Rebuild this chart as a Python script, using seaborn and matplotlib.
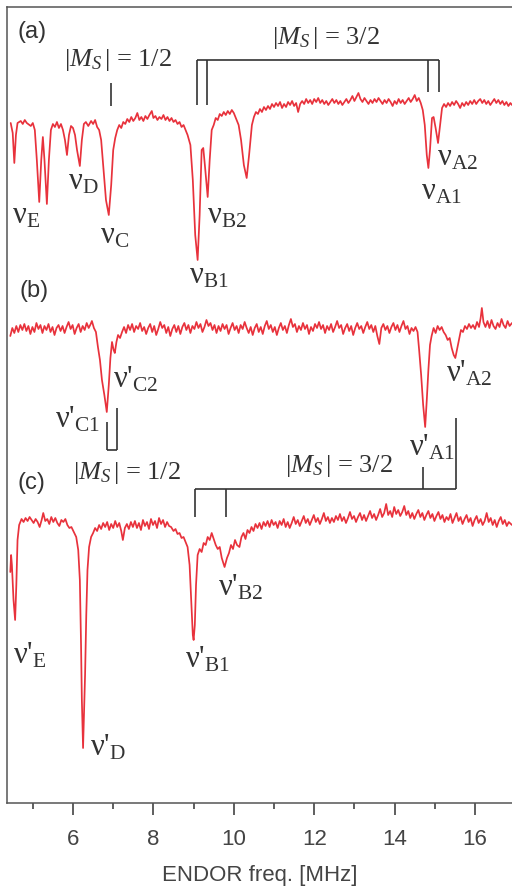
import numpy as np
import pandas as pd
import matplotlib
matplotlib.use("Agg")
import matplotlib.pyplot as plt
import seaborn as sns
from matplotlib.ticker import MultipleLocator

# ------------------------------------------------------------------
# Spectrum data (freq in MHz, signal in arb. units,
# dips = negative ENDOR response)
# ------------------------------------------------------------------
freq_a = [4.45, 4.50, 4.54, 4.58, 4.62, 4.70, 4.75, 4.80, 4.85, 4.95, 5.00, 5.05, 5.10, 5.16, 5.21,
          5.25, 5.29, 5.35, 5.40, 5.45, 5.50, 5.55, 5.60, 5.65, 5.70, 5.75, 5.80, 5.85, 5.90, 5.95,
          6.00, 6.05, 6.10, 6.17, 6.22, 6.27, 6.32, 6.38, 6.45, 6.50, 6.55, 6.60, 6.65, 6.70, 6.75,
          6.82, 6.89, 6.95, 7.00, 7.05, 7.10, 7.15, 7.20, 7.25, 7.30, 7.35, 7.40, 7.45, 7.50, 7.55,
          7.60, 7.65, 7.70, 7.75, 7.80, 7.85, 7.90, 7.96, 8.00, 8.05, 8.10, 8.15, 8.20, 8.25, 8.30,
          8.35, 8.40, 8.45, 8.50, 8.55, 8.60, 8.65, 8.70, 8.75, 8.80, 8.85, 8.92, 8.98, 9.04, 9.10,
          9.15, 9.20, 9.24, 9.28, 9.35, 9.40, 9.45, 9.50, 9.55, 9.60, 9.65, 9.70, 9.75, 9.80, 9.85,
          9.90, 9.95, 10.00, 10.05, 10.12, 10.18, 10.25, 10.32, 10.38, 10.45, 10.50, 10.55, 10.60,
          10.65, 10.70, 10.75, 10.80, 10.85, 10.90, 10.95, 11.00, 11.05, 11.10, 11.15, 11.20, 11.25,
          11.30, 11.35, 11.40, 11.45, 11.50, 11.55, 11.60, 11.65, 11.70, 11.75, 11.80, 11.85, 11.90,
          11.95, 12.00, 12.05, 12.10, 12.15, 12.20, 12.25, 12.30, 12.35, 12.40, 12.45, 12.50, 12.55,
          12.60, 12.65, 12.70, 12.75, 12.80, 12.85, 12.90, 12.95, 13.00, 13.05, 13.10, 13.15, 13.20,
          13.25, 13.30, 13.35, 13.40, 13.45, 13.50, 13.55, 13.60, 13.65, 13.70, 13.75, 13.80, 13.85,
          13.90, 13.95, 14.00, 14.05, 14.10, 14.15, 14.20, 14.25, 14.30, 14.35, 14.40, 14.45, 14.50,
          14.55, 14.60, 14.65, 14.70, 14.75, 14.80, 14.84, 14.88, 14.93, 14.97, 15.02, 15.08, 15.13,
          15.18, 15.23, 15.28, 15.33, 15.38, 15.43, 15.48, 15.53, 15.58, 15.63, 15.68, 15.73, 15.78,
          15.83, 15.88, 15.93, 15.98, 16.03, 16.08, 16.13, 16.18, 16.23, 16.28, 16.33, 16.38, 16.43,
          16.48, 16.53, 16.58, 16.63, 16.68, 16.73, 16.78, 16.83, 16.88, 16.92]
sig_a = [-3, -13, -43, -15, -3, -1, -4, 0, -3, -6, -3, -10, -40, -82, -40,
         -17, -40, -84, -40, -10, -4, -7, -2, -8, -4, -10, -20, -35, -15, -6,
         -8, -15, -30, -46, -20, -4, -2, -6, -1, -4, 0, -7, -10, -20, -45,
         -80, -95, -65, -30, -18, -10, -5, -8, -2, -4, 1, -2, 3, -1, 2,
         7, 0, 3, -1, 4, 1, 5, 9, 2, 4, 0, 3, 1, 5, 0,
         3, -1, 2, -2, 0, -4, -2, -7, -5, -10, -15, -25, -60, -115, -140,
         -95, -30, -28, -45, -77, -40, -10, -5, 2, 0, 6, 4, 8, 5, 9,
         6, 10, 7, 2, -5, -20, -45, -58, -35, -5, 3, 8, 6,
         11, 8, 13, 10, 14, 11, 16, 13, 17, 14, 18, 12, 16,
         13, 18, 15, 19, 14, 17, 8, 16, 19, 16, 21, 17, 20,
         16, 21, 18, 22, 17, 20, 16, 19, 15, 18, 21, 17, 20,
         16, 19, 15, 18, 21, 17, 20, 24, 19, 23, 27, 21, 18,
         22, 19, 16, 20, 17, 21, 18, 22, 19, 16, 20, 17, 21,
         18, 14, 19, 16, 21, 17, 20, 16, 19, 22, 18, 21, 25,
         19, 22, 17, 10, -5, -35, -48, -30, 2, 3, -8, -23, -5,
         12, 16, 13, 17, 14, 18, 15, 19, 16, 12, 17, 14, 18,
         15, 19, 16, 20, 16, 19, 21, 17, 20, 16, 19, 15, 18,
         21, 17, 20, 16, 19, 15, 18, 14, 17, 15]

freq_b = [4.44, 4.49, 4.54, 4.59, 4.64, 4.69, 4.74, 4.79, 4.84, 4.89, 4.94, 4.99, 5.04, 5.09, 5.14,
          5.19, 5.24, 5.29, 5.34, 5.39, 5.44, 5.49, 5.54, 5.59, 5.64, 5.69, 5.74, 5.79, 5.84, 5.89,
          5.94, 5.99, 6.04, 6.09, 6.14, 6.19, 6.24, 6.29, 6.34, 6.39, 6.44, 6.47, 6.52, 6.57, 6.62,
          6.67, 6.72, 6.78, 6.84, 6.89, 6.93, 6.97, 7.01, 7.04, 7.08, 7.12, 7.17, 7.22, 7.27, 7.32,
          7.37, 7.42, 7.47, 7.52, 7.57, 7.62, 7.67, 7.72, 7.77, 7.82, 7.87, 7.92, 7.97, 8.02, 8.07,
          8.12, 8.17, 8.22, 8.27, 8.32, 8.37, 8.42, 8.47, 8.52, 8.57, 8.62, 8.67, 8.72, 8.77, 8.82,
          8.87, 8.92, 8.97, 9.02, 9.07, 9.12, 9.17, 9.22, 9.27, 9.32, 9.37, 9.42, 9.47, 9.52, 9.57,
          9.62, 9.67, 9.72, 9.77, 9.82, 9.87, 9.92, 9.97, 10.02, 10.07, 10.12, 10.17, 10.22, 10.27,
          10.32, 10.37, 10.42, 10.47, 10.52, 10.57, 10.62, 10.67, 10.72, 10.77, 10.82, 10.87, 10.92,
          10.97, 11.02, 11.07, 11.12, 11.17, 11.22, 11.27, 11.32, 11.37, 11.42, 11.47, 11.52, 11.57,
          11.62, 11.67, 11.72, 11.77, 11.82, 11.87, 11.92, 11.97, 12.02, 12.07, 12.12, 12.17, 12.22,
          12.27, 12.32, 12.37, 12.42, 12.47, 12.52, 12.57, 12.62, 12.67, 12.72, 12.77, 12.82, 12.87,
          12.92, 12.97, 13.02, 13.07, 13.12, 13.17, 13.22, 13.27, 13.32, 13.37, 13.42, 13.47, 13.52,
          13.57, 13.62, 13.67, 13.72, 13.77, 13.82, 13.87, 13.92, 13.97, 14.02, 14.07, 14.12, 14.17,
          14.22, 14.27, 14.32, 14.37, 14.42, 14.47, 14.52, 14.57, 14.61, 14.66, 14.71, 14.76, 14.80,
          14.84, 14.88, 14.92, 14.97, 15.02, 15.07, 15.12, 15.17, 15.22, 15.27, 15.32, 15.37, 15.42,
          15.47, 15.51, 15.55, 15.60, 15.65, 15.70, 15.75, 15.80, 15.85, 15.90, 15.95, 16.00, 16.05,
          16.10, 16.14, 16.17, 16.21, 16.26, 16.31, 16.36, 16.41, 16.46, 16.51, 16.56, 16.61, 16.66,
          16.71, 16.76, 16.81, 16.86, 16.92]
sig_b = [-6, 2, -3, 4, -2, 5, 0, 6, -1, 4, -4, 3, -2, 7, 1,
         5, -3, 4, 0, 6, -2, 3, -5, 2, 5, -1, 4, -3, 3, 8,
         1, 5, -4, 2, 6, -2, 4, 0, 7, 2, 6, 9, 2, -2, -17,
         -30, -50, -65, -82, -55, -28, -12, -20, -23, -12, -5, -8, -2, 3, -3,
         5, 0, 6, -2, 4, 1, 7, -1, 3, -4, 2, 6, -2, 4, -5,
         1, 8, 2, 5, -3, 3, -6, 1, 5, -2, 4, -4, 3, 7, 0,
         5, -3, 4, 1, 8, 2, 6, -2, 3, 10, 4, 7, 0, 5, -3,
         4, -1, 6, 1, 5, -4, 2, 7, 0, 4, -3, 5, 1, 8,
         2, -3, 3, -5, 2, 6, -2, 3, -4, 4, 9, 1, 5,
         -2, 3, -5, 2, 7, 0, 4, -3, 5, 11, 3, 6, -2,
         4, 0, 7, 1, 5, -4, 3, -1, 6, 2, 8, 1, 5,
         -3, 4, 0, 6, -2, 3, 9, 2, 5, -4, 2, 6, -1,
         4, -5, 2, 7, 1, 4, -3, 3, 8, 1, 5, -2, 4,
         -6, -14, 2, 6, 0, 4, -3, 3, 7, 0, 5, -2, 4,
         9, 1, 4, -4, 2, -1, 3, -2, -20, -45, -75, -97, -70,
         -40, -15, -6, 2, -3, 4, 0, 3, -2, -5, -10, -8, -18,
         -25, -28, -20, -10, 0, -2, 4, 1, 6, 2, 5, 1, 8,
         3, 12, 22, 8, 3, 9, 2, 10, 4, 1, 7, 3, 11,
         5, 2, 9, 4, 7]

freq_c = [4.44, 4.46, 4.48, 4.52, 4.56, 4.59, 4.62, 4.66, 4.72, 4.77, 4.82, 4.87, 4.92, 4.97, 5.02,
          5.07, 5.12, 5.17, 5.22, 5.26, 5.31, 5.36, 5.41, 5.46, 5.51, 5.56, 5.61, 5.66, 5.71, 5.76,
          5.81, 5.86, 5.91, 5.96, 6.02, 6.08, 6.13, 6.17, 6.20, 6.22, 6.25, 6.28, 6.30, 6.33, 6.36,
          6.40, 6.45, 6.50, 6.55, 6.60, 6.65, 6.70, 6.75, 6.80, 6.85, 6.90, 6.95, 7.00, 7.05, 7.10,
          7.15, 7.20, 7.24, 7.29, 7.34, 7.39, 7.44, 7.49, 7.54, 7.59, 7.64, 7.69, 7.74, 7.79, 7.84,
          7.89, 7.94, 7.99, 8.04, 8.09, 8.14, 8.19, 8.24, 8.29, 8.34, 8.39, 8.44, 8.50, 8.55, 8.60,
          8.65, 8.70, 8.75, 8.80, 8.85, 8.90, 8.94, 8.98, 9.00, 9.03, 9.06, 9.10, 9.15, 9.20, 9.25,
          9.30, 9.35, 9.40, 9.45, 9.50, 9.55, 9.60, 9.65, 9.70, 9.77, 9.83, 9.88, 9.93, 9.98, 10.03,
          10.08, 10.14, 10.19, 10.24, 10.29, 10.34, 10.39, 10.44, 10.49, 10.54, 10.59, 10.64, 10.69,
          10.74, 10.79, 10.84, 10.89, 10.94, 10.99, 11.04, 11.09, 11.14, 11.19, 11.24, 11.29, 11.34,
          11.39, 11.44, 11.49, 11.54, 11.59, 11.64, 11.69, 11.74, 11.79, 11.84, 11.89, 11.94, 11.99,
          12.04, 12.09, 12.14, 12.19, 12.24, 12.29, 12.34, 12.39, 12.44, 12.49, 12.54, 12.59, 12.64,
          12.69, 12.74, 12.79, 12.84, 12.89, 12.94, 12.99, 13.04, 13.09, 13.14, 13.19, 13.24, 13.29,
          13.34, 13.39, 13.44, 13.49, 13.54, 13.59, 13.64, 13.69, 13.74, 13.79, 13.84, 13.89, 13.94,
          13.99, 14.04, 14.09, 14.14, 14.19, 14.24, 14.29, 14.34, 14.39, 14.44, 14.49, 14.54, 14.59,
          14.64, 14.69, 14.74, 14.79, 14.84, 14.89, 14.94, 14.99, 15.04, 15.09, 15.14, 15.19, 15.24,
          15.29, 15.34, 15.39, 15.44, 15.49, 15.54, 15.59, 15.64, 15.69, 15.74, 15.79, 15.84, 15.89,
          15.94, 15.99, 16.04, 16.09, 16.14, 16.19, 16.24, 16.29, 16.34, 16.39, 16.44, 16.49, 16.54,
          16.59, 16.64, 16.69, 16.74, 16.79, 16.84, 16.92]
sig_c = [-47, -30, -40, -75, -95, -60, -15, 0, 6, 3, 7, 4, 8, 5, 2,
         6, 3, -2, 5, 12, 4, 6, 1, 8, 3, 7, 2, -1, 5, 3,
         6, 0, -3, -2, -7, -12, -25, -55, -120, -175, -223, -180, -150, -90, -45,
         -22, -12, -8, -3, -6, 0, -4, 2, -2, 3, -5, 1, -3, 4, -2,
         2, -6, -15, -3, 1, -4, 3, -2, 4, -3, 2, -5, 5, -1, 3,
         -4, 6, 0, 4, -3, 7, 1, 5, -2, 3, -1, -2, -6, -4, -9,
         -8, -13, -12, -17, -22, -40, -75, -110, -115, -100, -60, -30, -24, -27, -18,
         -20, -12, -15, -8, -14, -20, -24, -22, -33, -42, -33, -28, -20, -24, -15,
         -20, -22, -12, -8, -14, -5, -8, -2, -6, 1, -3, 2, -4,
         3, -1, 4, -2, 5, 0, 3, -3, 4, 0, 6, -2, 3,
         -3, 2, 8, 1, 5, -1, 4, 9, 2, 6, 0, 5, 10,
         3, 7, 1, 6, 12, 4, 8, 2, 7, 3, 9, 5, 11,
         4, 8, 2, 7, 13, 6, 9, 3, 8, 12, 5, 10, 4,
         9, 14, 7, 11, 5, 10, 16, 8, 12, 21, 10, 14, 8,
         18, 11, 15, 9, 13, 19, 10, 14, 7, 12, 6, 11, 15,
         8, 12, 5, 10, 14, 7, 11, 4, 9, 13, 6, 10, 3,
         8, 5, 11, 2, 7, 12, 4, 8, 1, 6, 10, 3, 7,
         -1, 5, 9, 2, 6, 0, 4, 12, 3, 7, 0, 5, -2,
         4, 8, 1, 5, -1, 3, 0]

# line positions used for the stick diagrams (MHz)
peaks_a = [9.08, 9.33, 14.83, 15.11]
peaks_b_c = [6.84, 7.09]
peaks_b_a = [14.71, 15.53]
peaks_c_b = [9.03, 9.80]
ms_half_a = 6.94

# ------------------------------------------------------------------
# Styling
# ------------------------------------------------------------------
sns.set_style("ticks")
plt.rcParams['font.family'] = ['Liberation Sans', 'DejaVu Sans']
plt.rcParams['mathtext.fontset'] = 'custom'
plt.rcParams['mathtext.rm'] = 'Liberation Serif'
plt.rcParams['mathtext.it'] = 'Liberation Serif:italic'

red = '#e8323c'
ink = '#333333'
serif = ['Liberation Serif', 'DejaVu Serif']

fig = plt.figure(figsize=(5.12, 8.9), dpi=100)
ax = fig.add_axes([7 / 512, 87 / 890, 1 - 7 / 512, 796 / 890])

# vertical stacking offsets (same units as the signal)
offsets = {'a': -120, 'b': -330, 'c': -525}
traces = {'a': (freq_a, sig_a), 'b': (freq_b, sig_b), 'c': (freq_c, sig_c)}

for key, (fx, sy) in traces.items():
    df = pd.DataFrame({'freq': fx, 'signal': np.array(sy) + offsets[key]})
    sns.lineplot(data=df, x='freq', y='signal', ax=ax, color=red, lw=1.25,
                 estimator=None, sort=False)

ax.set_xlim(4.358, 16.92)
ax.set_ylim(-803, -7)
ax.set_yticks([])
ax.set_ylabel('')
ax.xaxis.set_major_locator(MultipleLocator(2))
ax.xaxis.set_minor_locator(MultipleLocator(1))
ax.tick_params(axis='x', which='major', length=8.5, width=1.1, color=ink,
               labelsize=16, labelcolor='#444444', pad=10)
ax.tick_params(axis='x', which='minor', length=4.5, width=1.1, color=ink)
ax.set_xlabel('ENDOR freq. [MHz]', fontsize=16, color='#444444', labelpad=11)
for side in ['left', 'top', 'bottom']:
    ax.spines[side].set_color('#555555')
    ax.spines[side].set_linewidth(1.1)
ax.spines['right'].set_visible(False)

# ------------------------------------------------------------------
# Annotations (stick diagrams and labels)
# ------------------------------------------------------------------
lw_b = 1.2
# (a) |Ms| = 1/2 marker
ax.vlines(ms_half_a, -106, -83, color=ink, lw=lw_b)
# (a) |Ms| = 3/2 bracket
ax.hlines(-60, peaks_a[0], peaks_a[3], color=ink, lw=lw_b)
ax.vlines(peaks_a[:2], -105, -60, color=ink, lw=lw_b)
ax.vlines(peaks_a[2:], -92, -60, color=ink, lw=lw_b)
# (b) C-pair bracket
ax.vlines(peaks_b_c[0], -450, -422, color=ink, lw=lw_b)
ax.vlines(peaks_b_c[1], -450, -408, color=ink, lw=lw_b)
ax.hlines(-450, peaks_b_c[0], peaks_b_c[1], color=ink, lw=lw_b)
# (c) |Ms| = 3/2 bracket
ax.hlines(-489, peaks_c_b[0], peaks_b_a[1], color=ink, lw=lw_b)
ax.vlines(peaks_c_b, -517, -489, color=ink, lw=lw_b)
ax.vlines(peaks_b_a[0], -489, -467, color=ink, lw=lw_b)
ax.vlines(peaks_b_a[1], -489, -418, color=ink, lw=lw_b)

# panel letters
for txt, x, y in [('(a)', 4.61, -32), ('(b)', 4.68, -291), ('(c)', 4.61, -483)]:
    ax.text(x, y, txt, fontsize=17, color=ink, ha='left', va='center')

# spin-manifold labels
ms_fs = 19
for txt, x, y in [('1/2', 7.12, -60), ('3/2', 12.30, -38),
                  ('1/2', 7.34, -473), ('3/2', 12.62, -466)]:
    ax.text(x, y, r'$|M_S\,|$ = ' + txt, fontsize=ms_fs, color=ink,
            family=serif, ha='center', va='center')

nu_labels = [
    ("", "E", 4.49, -223),
    ("", "D", 5.88, -190),
    ("", "C", 6.67, -243),
    ("", "B1", 8.88, -283),
    ("", "B2", 9.33, -223),
    ("", "A1", 14.66, -200),
    ("", "A2", 15.06, -165),
    ("'", "C1", 5.55, -427),
    ("'", "C2", 6.99, -388),
    ("'", "A1", 14.36, -455),
    ("'", "A2", 15.28, -382),
    ("'", "E", 4.51, -663),
    ("'", "D", 6.42, -755),
    ("'", "B1", 8.78, -668),
    ("'", "B2", 9.60, -595),
]
for prime, sub, x, y in nu_labels:
    ax.text(x, y, '\u03bd' + prime + r'$_{\mathrm{' + sub + '}}$', fontsize=22,
            color=ink, family=serif, ha='left', va='baseline')

plt.savefig('out.png', dpi=100)
